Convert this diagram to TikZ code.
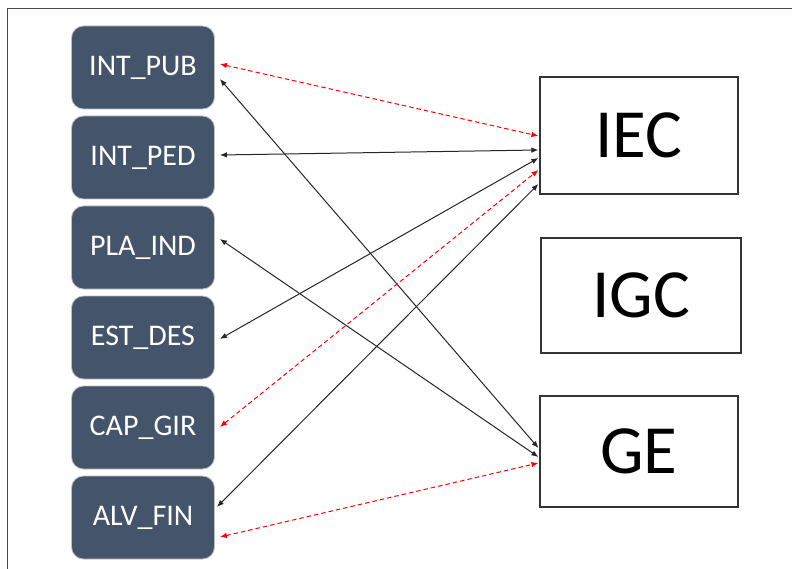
\documentclass[tikz,border=0pt]{standalone}
\usepackage{fontspec}
\setmainfont{Carlito}
\usetikzlibrary{arrows.meta}
\definecolor{boxfill}{HTML}{44546A}
\definecolor{framegray}{HTML}{4A4A4A}
\tikzset{
  leftbox/.style={draw=white!75!black, line width=0.8pt, fill=boxfill, rounded corners=12pt,
    minimum width=143pt, minimum height=83pt, text=white, font=\fontsize{30}{32}\selectfont, inner sep=0pt},
  rightbox/.style={draw=black!80, line width=1.1pt, fill=white, inner sep=0pt,
    font=\fontsize{69}{71}\selectfont},
  link/.style={draw=black!85, line width=1pt, {Latex[length=7pt,width=5.5pt]}-{Latex[length=7pt,width=5.5pt]}},
  redlink/.style={draw=red, line width=1pt, dash pattern=on 4.5pt off 3pt, {Latex[length=7pt,width=5.5pt]}-{Latex[length=7pt,width=5.5pt]}}
}
\begin{document}
\begin{tikzpicture}[x=1pt,y=-1pt]
\useasboundingbox (0,0) rectangle (792,569);
\draw[framegray, line width=1.8pt] (7.5,569) -- (7.5,8.5) -- (792,8.5);
\node[leftbox] (PUB) at (143,67.5) {INT\_PUB};
\node[leftbox] (PED) at (143,157.5) {INT\_PED};
\node[leftbox] (PLA) at (143,247.5) {PLA\_IND};
\node[leftbox] (EST) at (143,337.5) {EST\_DES};
\node[leftbox] (CAP) at (143,427.5) {CAP\_GIR};
\node[leftbox] (ALV) at (143,517.5) {ALV\_FIN};
\node[rightbox, minimum width=198pt, minimum height=117pt] (IEC) at (639,135.5) {IEC};
\node[rightbox, minimum width=200pt, minimum height=115pt] (IGC) at (641,295.5) {IGC};
\node[rightbox, minimum width=198pt, minimum height=111pt] (GE) at (639,451.5) {GE};
% connectors
\draw[redlink] ([xshift=5pt,yshift=3.5pt]PUB.east) -- ([xshift=-1pt,yshift=-0.5pt]IEC.west);
\draw[link] ([xshift=5pt,yshift=-11.5pt]PUB.east) -- ([xshift=-1pt,yshift=3.5pt]GE.west);
\draw[link] ([xshift=5pt,yshift=2.5pt]PED.east) -- ([xshift=-1pt,yshift=-14.5pt]IEC.west);
\draw[link] ([xshift=5pt,yshift=-1.5pt]EST.east) -- ([xshift=-1pt,yshift=-22.5pt]IEC.west);
\draw[redlink] ([xshift=5pt,yshift=0.5pt]CAP.east) -- ([xshift=-1pt,yshift=-34.5pt]IEC.west);
\draw[link] ([xshift=2pt,yshift=10.5pt]ALV.east) -- ([xshift=-1pt,yshift=-48.5pt]IEC.west);
\draw[link] ([xshift=5pt,yshift=8.5pt]PLA.east) -- ([xshift=-1pt,yshift=-5.5pt]GE.west);
\draw[redlink] ([xshift=5pt,yshift=-19.5pt]ALV.east) -- ([xshift=-1pt,yshift=-11.5pt]GE.west);
\end{tikzpicture}
\end{document}
